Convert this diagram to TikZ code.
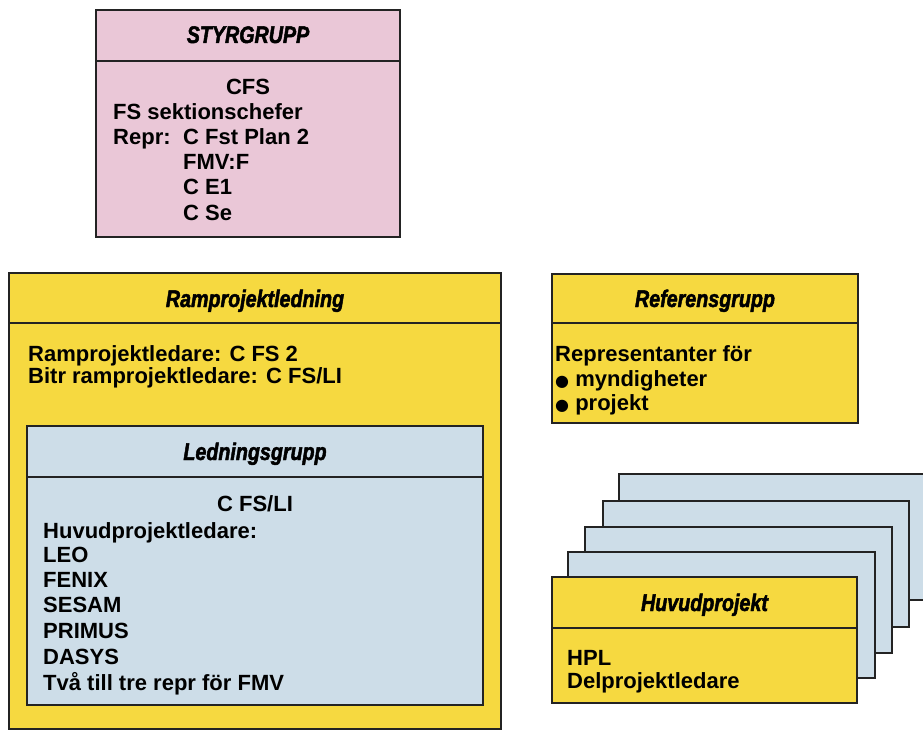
\documentclass[tikz,border=0pt]{standalone}
\usepackage{fontspec}
\setmainfont{Liberation Sans}
\newfontface\titlefont{Liberation Sans Bold Italic}[FakeStretch=0.82,FakeBold=2]
\newfontfamily\dejavu{DejaVu Sans}
\definecolor{pinkc}{RGB}{234,199,215}
\definecolor{yellowc}{RGB}{246,217,64}
\definecolor{bluec}{RGB}{205,221,232}
\definecolor{linec}{RGB}{35,35,35}
\tikzset{
  box/.style={draw=linec, line width=1.1pt, anchor=north west, inner sep=0pt, outer sep=0pt},
  divider/.style={draw=linec, line width=1.1pt},
  ttl/.style={anchor=base, inner sep=0pt, font=\titlefont\fontsize{24}{24}\selectfont},
  txt/.style={anchor=base west, inner sep=0pt, font=\bfseries\fontsize{22}{25}\selectfont},
  ctxt/.style={txt, anchor=base},
}
\begin{document}
\begin{tikzpicture}[x=1pt,y=-1pt]
\fill[white] (0,0) rectangle (923,730);
\useasboundingbox (0,0) rectangle (923,730);

% STYRGRUPP
\node[box, fill=pinkc, minimum width=304pt, minimum height=227pt] (sty) at (96,10) {};
\coordinate (styd) at (0,61);
\draw[divider] (sty.west |- styd) -- (sty.east |- styd);
\node[ttl] (styt) at (248,43) {STYRGRUPP};
\node[ctxt] (sty1) at (248,95) {CFS};
\node[txt] (sty2) at (113,120) {FS sektionschefer};
\node[txt] (sty3) at (113,145) {Repr:};
\node[txt] (sty4) at (183,145) {C Fst Plan 2};
\node[txt] (sty5) at (183,170) {FMV:F};
\node[txt] (sty6) at (183,195) {C E1};
\node[txt] (sty7) at (183,220) {C Se};

% Ramprojektledning
\node[box, fill=yellowc, minimum width=492pt, minimum height=456pt] (ram) at (9,273) {};
\coordinate (ramd) at (0,323);
\draw[divider] (ram.west |- ramd) -- (ram.east |- ramd);
\node[ttl] (ramt) at (255,307) {Ramprojektledning};
\node[txt] (ram1) at (28,361) {Ramprojektledare: C FS 2};
\node[txt] (ram2) at (28,383) {Bitr ramprojektledare: C FS/LI};

% Ledningsgrupp
\node[box, fill=bluec, minimum width=456pt, minimum height=279pt] (led) at (27,426) {};
\coordinate (ledd) at (0,477);
\draw[divider] (led.west |- ledd) -- (led.east |- ledd);
\node[ttl] (ledt) at (255,460) {Ledningsgrupp};
\node[ctxt] (led1) at (255,511) {C FS/LI};
\node[txt] (led2) at (43,538) {Huvudprojektledare:};
\node[txt] (led3) at (43,562) {LEO};
\node[txt] (led4) at (43,587) {FENIX};
\node[txt] (led5) at (43,612) {SESAM};
\node[txt] (led6) at (43,638) {PRIMUS};
\node[txt] (led7) at (43,664) {DASYS};
\node[txt] (led8) at (43,690) {Två till tre repr för FMV};

% Referensgrupp
\node[box, fill=yellowc, minimum width=306pt, minimum height=149pt] (ref) at (552,274) {};
\coordinate (refd) at (0,323);
\draw[divider] (ref.west |- refd) -- (ref.east |- refd);
\node[ttl] (reft) at (705,307) {Referensgrupp};
\node[txt] (ref1) at (555,361) {Representanter för};
\node[txt] (ref2) at (555,386) {{\dejavu\fontsize{16}{16}\selectfont ●} myndigheter};
\node[txt] (ref3) at (555,410) {{\dejavu\fontsize{16}{16}\selectfont ●} projekt};

% Huvudprojekt stack
\node[box, fill=bluec, minimum width=320pt, minimum height=126pt] (hp1) at (619,474) {};
\node[box, fill=bluec, minimum width=306pt, minimum height=126pt] (hp2) at (603,501) {};
\node[box, fill=bluec, minimum width=307pt, minimum height=126pt] (hp3) at (585,527) {};
\node[box, fill=bluec, minimum width=307pt, minimum height=126pt] (hp4) at (568,552) {};
\node[box, fill=yellowc, minimum width=305pt, minimum height=126pt] (hp) at (552,577) {};
\coordinate (hpd) at (0,628);
\draw[divider] (hp.west |- hpd) -- (hp.east |- hpd);
\node[ttl] (hpt) at (704.5,611) {Huvudprojekt};
\node[txt] (hpl1) at (567,665) {HPL};
\node[txt] (hpl2) at (567,688) {Delprojektledare};
\end{tikzpicture}
\end{document}
